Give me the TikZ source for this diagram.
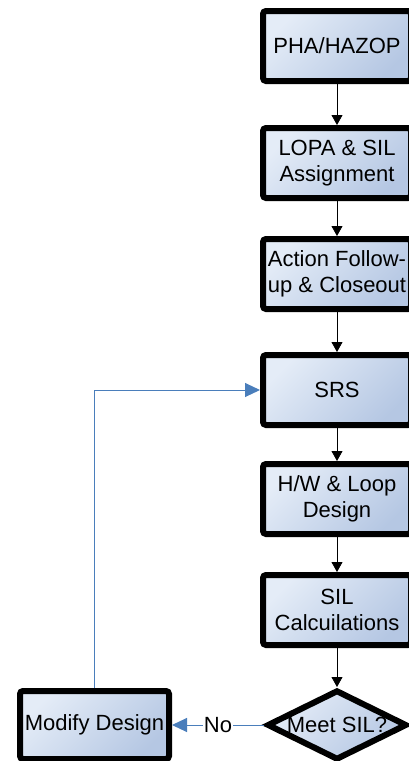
\documentclass[tikz,border=0pt]{standalone}
\usepackage{fontspec}
\setmainfont{Liberation Sans}
\usetikzlibrary{arrows.meta,shapes.geometric}
\definecolor{boxlight}{RGB}{228,236,247}
\definecolor{boxdark}{RGB}{181,199,227}
\definecolor{loopblue}{RGB}{74,126,187}

\begin{document}
\begin{tikzpicture}[x=1pt,y=-1pt,
  stepbox/.style={draw=black, line width=6pt, rounded corners=3pt,
    top color=boxlight, bottom color=boxdark, shading angle=45,
    minimum width=148pt, minimum height=70pt, align=center, inner sep=2pt,
    font=\fontsize{22}{26}\selectfont},
  decision/.style={diamond, draw=black, line width=6pt,
    top color=boxlight, bottom color=boxdark, shading angle=45,
    minimum width=140pt, minimum height=70pt, inner sep=0pt,
    font=\fontsize{22}{26}\selectfont},
  flow/.style={draw=black, line width=0.8pt, -{Triangle[width=11pt,length=10pt]}},
  loopback/.style={draw=loopblue, line width=1pt, -{Triangle[width=14pt,length=15pt]}}]
\useasboundingbox (0,0) rectangle (409,761);
% main column
\node[stepbox] (pha) at (337,46) {PHA/HAZOP};
\node[stepbox] (lopa) at (337,163) {LOPA \& SIL\\Assignment};
\node[stepbox] (action) at (337,274) {Action Follow-\\up \& Closeout};
\node[stepbox] (srs) at (337,390) {SRS};
\node[stepbox] (hwloop) at (337,499) {H/W \& Loop\\Design};
\node[stepbox] (silcalc) at (337,610) {SIL\\Calcuilations};
\node[decision] (meetsil) at (337,725) {\makebox[0pt]{Meet SIL?}};
\node[stepbox, minimum width=149pt, minimum height=68pt] (modify) at (94.5,725) {Modify Design};
% connectors
\draw[flow] (pha) -- (lopa);
\draw[flow] (lopa) -- (action);
\draw[flow] (action) -- (srs);
\draw[flow] (srs) -- (hwloop);
\draw[flow] (hwloop) -- (silcalc);
\draw[flow] (silcalc) -- (meetsil);
\draw[loopback] (meetsil.west) -- node[fill=white, inner sep=1pt, font=\fontsize{22}{26}\selectfont] {No} (modify.east);
\draw[loopback] (modify.north) |- (srs.west);
\end{tikzpicture}
\end{document}
